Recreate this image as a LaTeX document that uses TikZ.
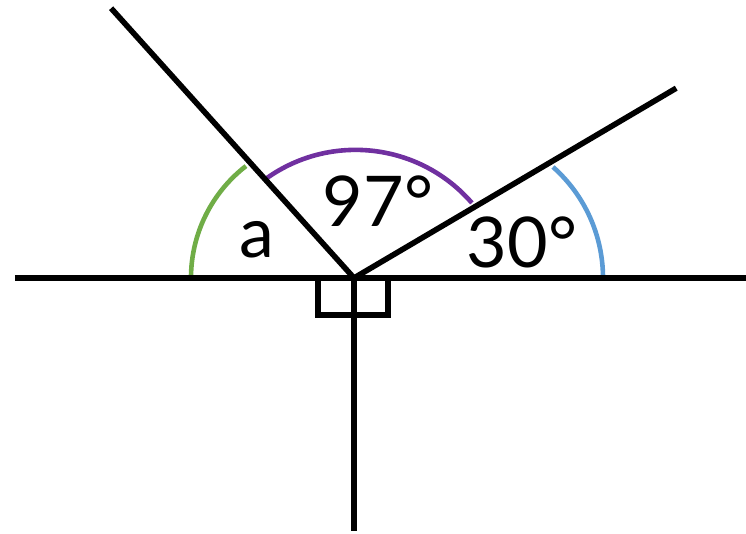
\documentclass[tikz,border=0pt]{standalone}
\usepackage{fontspec}
\setmainfont{Lato}
\usepackage{xcolor}
\usepackage{tikz}
\definecolor{anglegreen}{RGB}{112, 173, 71}
\definecolor{anglepurple}{RGB}{112, 48, 160}
\definecolor{angleblue}{RGB}{91, 155, 213}

\begin{document}
\begin{tikzpicture}[x=0.5pt,y=0.5pt,line width=2.8pt,
    anglelabel/.style={font=\fontsize{35}{40}\selectfont,anchor=base,inner sep=0pt},
    anglearc/.style={line width=2.3pt}]
    % Angles on a straight line, with a perpendicular going down from O
    \useasboundingbox (-354,-256) rectangle (392,278);
    \coordinate (O) at (0,0);
    \coordinate (L) at (-339,0);
    \coordinate (R) at (392,0);
    \coordinate (D) at (0,-253);
    \coordinate (P) at (132:363);
    \coordinate (Q) at (30.5:374);

    \draw[anglearc,anglegreen] (-163,0) arc (180:127.7:141.5);
    \draw[anglearc,anglepurple] (-87,100) arc (125.2:40.9:153.8);
    \draw[anglearc,angleblue] (249,0) arc (0:48.5:148.2);

    \draw (L) -- (R);
    \draw (O) -- (P);
    \draw (O) -- (Q);
    \draw (O) -- (D);
    \draw (-36,0) rectangle (34,-37);

    \node[anglelabel] (a) at (-97,20) {a};
    \node[anglelabel] (top) at (24,51) {97°};
    \node[anglelabel] (right) at (168,10) {30°};
\end{tikzpicture}
\end{document}
